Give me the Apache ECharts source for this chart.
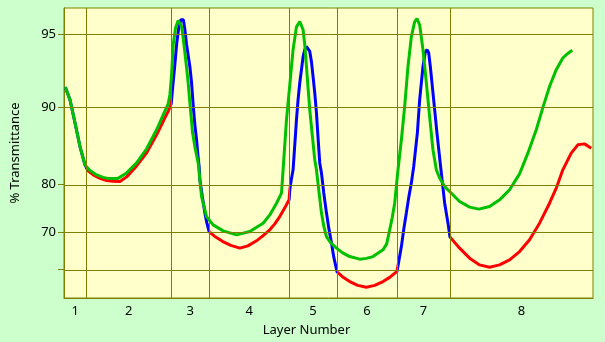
<!DOCTYPE html>
<html>
<head>
<meta charset="utf-8">
<script src="https://cdn.jsdelivr.net/npm/echarts@6/dist/echarts.min.js"></script>
<style>
html,body{margin:0;padding:0;background:#ccffcc;}
#chart{width:605px;height:342px;}
</style>
</head>
<body>
<div id="chart"></div>
<script>
// Layer boundaries along the horizontal (position) axis
const layerEdges = [0, 22.3, 107.3, 145.3, 225.3, 273.3, 333.3, 386.3, 529.5];
const layerLabels = ['1', '2', '3', '4', '5', '6', '7', '8'];
// % Transmittance grid values (axis is log-absorbance scaled)
const yGridValues = [95, 90, 80, 70, 60];
const yLabelValues = [95, 90, 80, 70];
const yTopT = 96.1, yBottomT = 50.8;

// Curve A (red in even layers, blue in odd layers)
const curveAX = [1.3, 6, 11, 16, 21, 22.3, 24, 29.3, 36, 42.7, 49, 56, 62.7, 72.7, 82.7, 92.7, 101, 104.3, 107.3,
  109, 110.5, 113, 115, 117, 118, 119.5, 121, 122.7, 126, 127.7, 129.3, 131, 132.7, 134, 135.3, 136, 138.5, 141, 143, 145.3,
  151, 159, 167, 176, 184, 192.7, 199, 206, 211, 216, 221, 225.3,
  226, 227.5, 229.3, 231, 232.7, 234.3, 236, 237.7, 239.3, 241, 242.7, 244.3, 246, 247.7, 249.3, 251, 252.7, 254.3, 256, 257.7, 260, 262.7, 265, 267.7, 270, 273.3,
  279, 286, 294, 302.7, 311, 319.3, 326, 333.3,
  335, 337.7, 340, 342.7, 345, 347.7, 350, 353.7, 356, 359.3, 361.5, 363.3, 365, 366.7, 370, 373.3, 377, 381, 384.3, 386.3,
  396, 406, 416, 426, 436, 446, 456, 466, 476, 486, 492.7, 499.3, 507.7, 514.3, 521, 527.7];
const curveAT = [91.74, 90.71, 88.50, 85.72, 83.16, 82.86, 82.25, 81.60, 81.03, 80.67, 80.53, 80.49, 81.28, 83.01, 84.88, 87.16, 89.02, 89.65, 90.35,
  91.92, 92.99, 94.62, 95.33, 95.64, 95.71, 95.64, 95.20, 94.46, 93.18, 92.07, 90.26, 88.28, 86.57, 84.61, 82.86, 80.79, 77.72, 74.48, 72.25, 70.13,
  69.01, 67.70, 66.70, 65.96, 66.57, 67.89, 69.14, 70.62, 72.02, 73.67, 75.53, 77.15,
  79.04, 80.79, 82.41, 85.94, 88.82, 90.71, 92.07, 92.99, 93.79, 94.20, 94.37, 94.30, 94.10, 93.49, 92.52, 91.29, 89.51, 86.80, 83.46, 81.92, 78.47, 74.48, 71.09, 67.36, 63.56, 59.18,
  57.64, 56.17, 54.95, 54.38, 54.95, 56.17, 57.49, 59.33,
  62.14, 66.38, 70.62, 74.48, 77.53, 80.27, 82.86, 87.39, 90.71, 93.18, 94.03, 94.20, 94.03, 93.18, 90.71, 87.39, 82.86, 76.54, 72.25, 68.89,
  65.96, 63.20, 61.26, 60.58, 61.26, 62.73, 65.04, 68.15, 72.18, 76.48, 79.34, 82.41, 84.84, 85.94, 86.06, 85.51];

// Curve B (green)
const curveBX = [1.3, 6, 11, 16, 21, 22.3, 26, 32.7, 39, 44.3, 49, 54, 62.7, 72.7, 82.7, 92.7, 99.3, 104.3, 106, 107.7,
  109.3, 111.7, 114.3, 117.7, 119.3, 121, 122.7, 124.3, 126, 128.7, 131, 134.3, 137.7, 142.7, 149.3, 159.3, 172.7, 186, 199.3, 206, 212.7, 217.7,
  219.3, 222.7, 226, 229.3, 232.7, 236, 239.3, 241, 242.7, 244.3, 246, 248.5, 251, 252.7, 255, 257.7, 260, 262.7, 267, 272.7,
  279, 286, 296, 302.7, 309.3, 319.3, 323, 326, 328.5, 331, 334.3, 337.7, 341, 344.3, 347.7, 351, 353.3, 356, 359.3, 362.7, 366, 369.3, 372.7,
  376, 381, 386, 396, 406, 415.3, 426, 436, 446, 456, 464.3, 472.7, 479.3, 486, 492.7, 499.3, 504, 508.7];
const curveBT = [91.74, 90.71, 88.50, 85.72, 83.16, 82.86, 82.30, 81.60, 81.20, 81.03, 81.00, 81.03, 81.92, 83.46, 85.43, 87.74, 89.31, 90.35, 91.13, 92.64,
  94.46, 95.29, 95.60, 95.35, 94.82, 94.03, 93.12, 92.07, 90.44, 87.39, 85.68, 83.46, 77.77, 73.67, 71.79, 70.37, 69.38, 70.20, 72.18, 74.04, 76.48, 78.42,
  82.41, 88.82, 91.92, 94.20, 95.33, 95.56, 95.20, 94.46, 93.18, 91.69, 89.80, 87.16, 83.91, 82.41, 79.04, 74.48, 71.55, 68.97, 67.36, 65.96,
  64.68, 63.65, 62.92, 63.14, 63.65, 65.51, 67.09, 70.62, 73.39, 76.48, 82.41, 86.57, 90.12, 93.18, 94.88, 95.55, 95.68, 95.42, 94.20, 92.07, 89.11, 85.30, 82.41,
  81.11, 79.62, 78.72, 76.81, 75.68, 75.27, 75.80, 77.15, 79.04, 81.76, 84.84, 87.74, 90.00, 91.79, 92.99, 93.72, 93.97, 94.16];

// log-absorbance transform used by the vertical axis
const f = T => Math.log10(-Math.log10(T / 100));
const finv = v => 100 * Math.pow(10, -Math.pow(10, v));

const zip = (xs, ts) => xs.map((x, i) => [x, f(ts[i])]);
const centers = layerLabels.map((_, i) => (layerEdges[i] + layerEdges[i + 1]) / 2);
const olive = '#808000';
const fontFam = '"Noto Sans", Tahoma, sans-serif';

const colorPieces = [];
for (let i = 0; i < layerLabels.length; i++) {
  colorPieces.push({ gte: layerEdges[i], lt: layerEdges[i + 1] + (i === layerLabels.length - 1 ? 1 : 0), color: i % 2 === 0 ? '#0000ff' : '#ff0000' });
}

const gridMarks = [];
layerEdges.slice(1, -1).forEach(x => gridMarks.push({ xAxis: x }));
yGridValues.forEach(t => gridMarks.push({ yAxis: f(t) }));

const chart = echarts.init(document.getElementById('chart'), null, { renderer: 'canvas' });
chart.setOption({
  animation: false,
  backgroundColor: '#ccffcc',
  grid: { left: 64, top: 8, right: 12, bottom: 44, show: true, backgroundColor: '#ffffcc', borderColor: olive, borderWidth: 1 },
  xAxis: {
    type: 'value', min: layerEdges[0], max: layerEdges[layerEdges.length - 1],
    name: 'Layer Number', nameLocation: 'middle', nameGap: 26,
    nameTextStyle: { color: '#000', fontFamily: fontFam, fontSize: 13, padding: [0, 44, 0, 0] },
    axisLine: { show: true, lineStyle: { color: olive } },
    axisTick: { show: false },
    splitLine: { show: false },
    axisLabel: {
      customValues: centers, color: '#000', fontFamily: fontFam, fontSize: 13, margin: 7,
      formatter: v => { const i = centers.findIndex(c => Math.abs(c - v) < 0.01); return i >= 0 ? layerLabels[i] : ''; }
    }
  },
  yAxis: {
    type: 'value', inverse: true, min: f(yTopT), max: f(yBottomT),
    name: '% Transmittance', nameLocation: 'middle', nameGap: 42, nameRotate: 90,
    nameTextStyle: { color: '#000', fontFamily: fontFam, fontSize: 13 },
    axisLine: { show: true, lineStyle: { color: olive } },
    axisTick: { show: true, customValues: yGridValues.map(f), length: 6, lineStyle: { color: olive } },
    splitLine: { show: false },
    axisLabel: {
      customValues: yLabelValues.map(f), color: '#000', fontFamily: fontFam, fontSize: 13, margin: 8,
      formatter: v => String(Math.round(finv(v)))
    }
  },
  visualMap: { show: false, type: 'piecewise', dimension: 0, seriesIndex: 1, pieces: colorPieces },
  series: [
    {
      type: 'line', data: [], silent: true,
      markLine: { silent: true, symbol: 'none', label: { show: false }, lineStyle: { color: olive, width: 1, type: 'solid' }, emphasis: { disabled: true }, data: gridMarks }
    },
    { type: 'line', data: zip(curveAX, curveAT), showSymbol: false, lineStyle: { width: 3 }, smooth: false },
    { type: 'line', data: zip(curveBX, curveBT), showSymbol: false, lineStyle: { width: 3, color: '#00c000' }, itemStyle: { color: '#00c000' }, smooth: false }
  ]
});
</script>
</body>
</html>
